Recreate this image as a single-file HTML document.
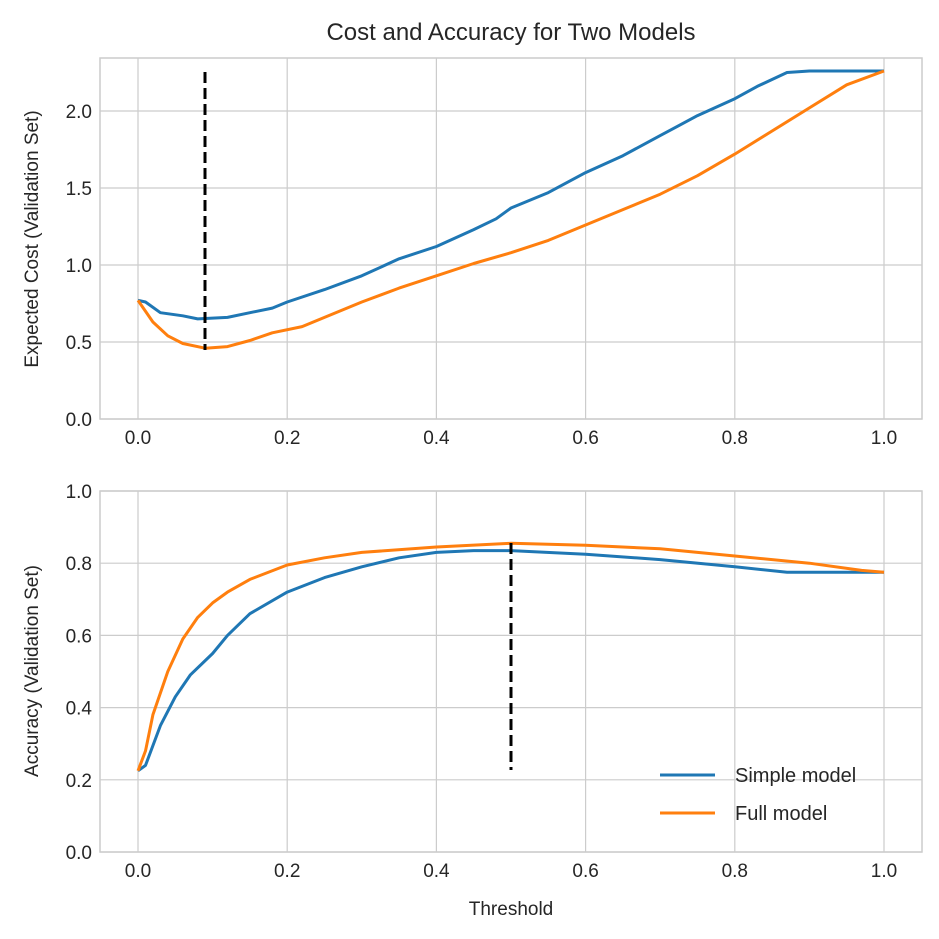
<!DOCTYPE html>
<html><head><meta charset="utf-8"><style>
html,body{margin:0;padding:0;background:#fff}
svg{display:block}
text{font-family:"Liberation Sans",Arial,sans-serif;fill:#262626}
</style></head><body>
<svg id="s" width="939" height="939" viewBox="0 0 939 939" xmlns="http://www.w3.org/2000/svg">
<rect width="939" height="939" fill="#fff"/>
<text x="511" y="40" font-size="24" text-anchor="middle">Cost and Accuracy for Two Models</text>
<g id="g"></g>
<text x="511" y="915" font-size="19" text-anchor="middle">Threshold</text>
<text transform="translate(38,239) rotate(-90)" font-size="19" text-anchor="middle">Expected Cost (Validation Set)</text>
<text transform="translate(38,671) rotate(-90)" font-size="19" text-anchor="middle">Accuracy (Validation Set)</text>
<line x1="660" y1="775" x2="715" y2="775" stroke="#1f77b4" stroke-width="3"/>
<line x1="660" y1="813" x2="715" y2="813" stroke="#ff7f0e" stroke-width="3"/>
<text x="735" y="782" font-size="20">Simple model</text>
<text x="735" y="820" font-size="20">Full model</text>
</svg>
<script>
const g=document.getElementById('g');let h='';
const X=v=>138+v*746;
function axes(top,bot,yt,Y,fmt){
 h+=`<rect x="100" y="${top}" width="822" height="${bot-top}" fill="none" stroke="#cccccc" stroke-width="1.5"/>`;
 for(let i=0;i<=5;i++){const x=X(i*0.2);h+=`<line x1="${x}" y1="${top}" x2="${x}" y2="${bot}" stroke="#cccccc" stroke-width="1.2"/><text x="${x}" y="${bot+25}" font-size="19" text-anchor="middle">${(i*0.2).toFixed(1)}</text>`;}
 yt.forEach(v=>{const y=Y(v);h+=`<line x1="100" y1="${y}" x2="922" y2="${y}" stroke="#cccccc" stroke-width="1.2"/><text x="92" y="${y+7}" font-size="19" text-anchor="end">${v.toFixed(1)}</text>`;});
}
function line(pts,Y,c){h+=`<polyline fill="none" stroke="${c}" stroke-width="3" stroke-linejoin="round" points="${pts.map(p=>X(p[0]).toFixed(1)+','+Y(p[1]).toFixed(1)).join(' ')}"/>`;}
const Y1=v=>419-v*154, Y2=v=>852-v*361;
axes(58,419,[0,0.5,1,1.5,2],Y1);
axes(491,852,[0,0.2,0.4,0.6,0.8,1],Y2);
line([[0,0.77],[0.01,0.76],[0.03,0.69],[0.06,0.67],[0.08,0.65],[0.12,0.66],[0.15,0.69],[0.18,0.72],[0.2,0.76],[0.25,0.84],[0.3,0.93],[0.35,1.04],[0.4,1.12],[0.45,1.23],[0.48,1.3],[0.5,1.37],[0.55,1.47],[0.6,1.6],[0.65,1.71],[0.7,1.84],[0.75,1.97],[0.8,2.08],[0.83,2.16],[0.87,2.25],[0.9,2.26],[1.0,2.26]],Y1,'#1f77b4');
line([[0,0.77],[0.02,0.63],[0.04,0.54],[0.06,0.49],[0.09,0.46],[0.12,0.47],[0.15,0.51],[0.18,0.56],[0.22,0.6],[0.25,0.66],[0.3,0.76],[0.35,0.85],[0.4,0.93],[0.45,1.01],[0.5,1.08],[0.55,1.16],[0.6,1.26],[0.65,1.36],[0.7,1.46],[0.75,1.58],[0.8,1.72],[0.85,1.87],[0.9,2.02],[0.95,2.17],[1.0,2.26]],Y1,'#ff7f0e');
line([[0,0.225],[0.01,0.24],[0.03,0.35],[0.05,0.43],[0.07,0.49],[0.1,0.55],[0.12,0.6],[0.15,0.66],[0.2,0.72],[0.25,0.76],[0.3,0.79],[0.35,0.815],[0.4,0.83],[0.45,0.835],[0.5,0.835],[0.6,0.825],[0.7,0.81],[0.8,0.79],[0.87,0.775],[1.0,0.775]],Y2,'#1f77b4');
line([[0,0.225],[0.01,0.28],[0.02,0.38],[0.04,0.5],[0.06,0.59],[0.08,0.65],[0.1,0.69],[0.12,0.72],[0.15,0.755],[0.2,0.795],[0.25,0.815],[0.3,0.83],[0.4,0.845],[0.5,0.855],[0.6,0.85],[0.7,0.84],[0.8,0.82],[0.9,0.8],[0.97,0.78],[1.0,0.775]],Y2,'#ff7f0e');
h+=`<line x1="205" y1="72" x2="205" y2="350" stroke="#000" stroke-width="3" stroke-dasharray="11,5"/>`;
h+=`<line x1="511" y1="543" x2="511" y2="770" stroke="#000" stroke-width="3" stroke-dasharray="11,5"/>`;
g.innerHTML=h;
</script>
</body></html>
